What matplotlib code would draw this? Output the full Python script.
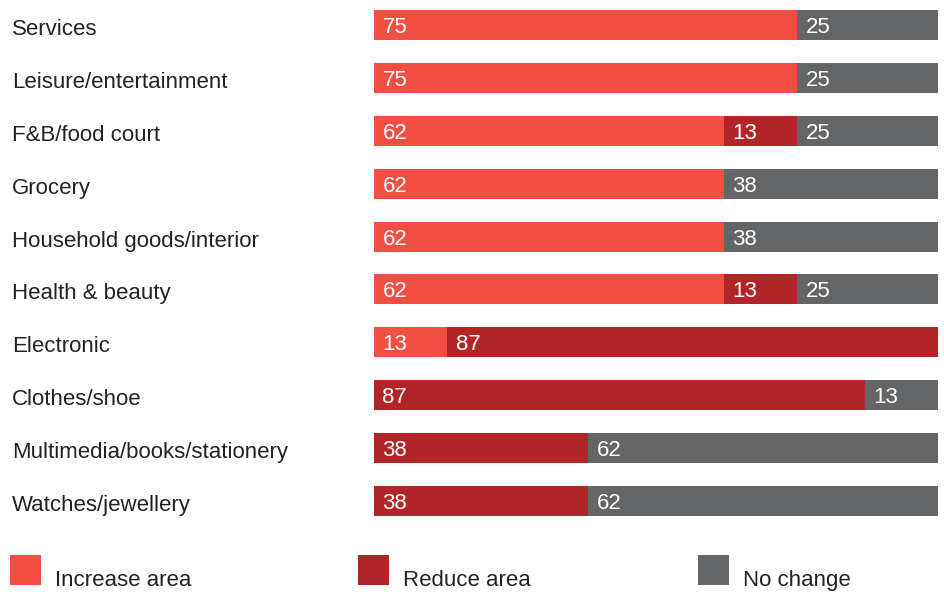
import matplotlib.pyplot as plt
from matplotlib.patches import Rectangle

categories = [
    "Services",
    "Leisure/entertainment",
    "F&B/food court",
    "Grocery",
    "Household goods/interior",
    "Health & beauty",
    "Electronic",
    "Clothes/shoe",
    "Multimedia/books/stationery",
    "Watches/jewellery",
]
increase = [75, 75, 62, 62, 62, 62, 13, 0, 0, 0]
reduce = [0, 0, 13, 0, 0, 13, 87, 87, 38, 38]
no_change = [25, 25, 25, 38, 38, 25, 0, 13, 62, 62]

series_names = ["Increase area", "Reduce area", "No change"]
colors = ["#F24E43", "#B22527", "#646567"]

plt.rcParams["font.family"] = ["Liberation Sans", "DejaVu Sans"]

W, H = 945, 592
fig = plt.figure(figsize=(W / 100, H / 100), dpi=100)

# bar area in pixel terms: x 374..938, first bar top 10, last bar bottom 516
left, right, top, bottom = 374, 938, 10, 516
ax = fig.add_axes([left / W, 1 - bottom / H, (right - left) / W, (bottom - top) / H])

bar_h = 0.567
n = len(categories)
ax.set_xlim(0, 100)
ax.set_ylim(n - 1 + bar_h / 2, -bar_h / 2)
ax.axis("off")

fs = 16
for i, cat in enumerate(categories):
    start = 0
    for vals, color in zip([increase, reduce, no_change], colors):
        v = vals[i]
        if v <= 0:
            continue
        ax.barh(i, v, left=start, height=bar_h, color=color, linewidth=0)
        ax.text(start + 1.5, i, str(v), color="white", fontsize=fs,
                ha="left", va="center_baseline")
        start += v
    y_fig = ax.transData.transform((0, i))[1] / fig.bbox.height
    fig.text(12 / W, y_fig - 2 / H, cat, fontsize=fs, color="#222222",
             ha="left", va="center_baseline")

# legend row at bottom
legend_x = [10, 358, 698]
for name, color, x in zip(series_names, colors, legend_x):
    fig.patches.append(Rectangle((x / W, 1 - 585 / H), 31 / W, 30 / H,
                                 transform=fig.transFigure, color=color,
                                 linewidth=0))
    fig.text((x + 45) / W, 1 - 578 / H, name, fontsize=fs, color="#222222",
             ha="left", va="center_baseline")

fig.savefig("out.png", dpi=100)
